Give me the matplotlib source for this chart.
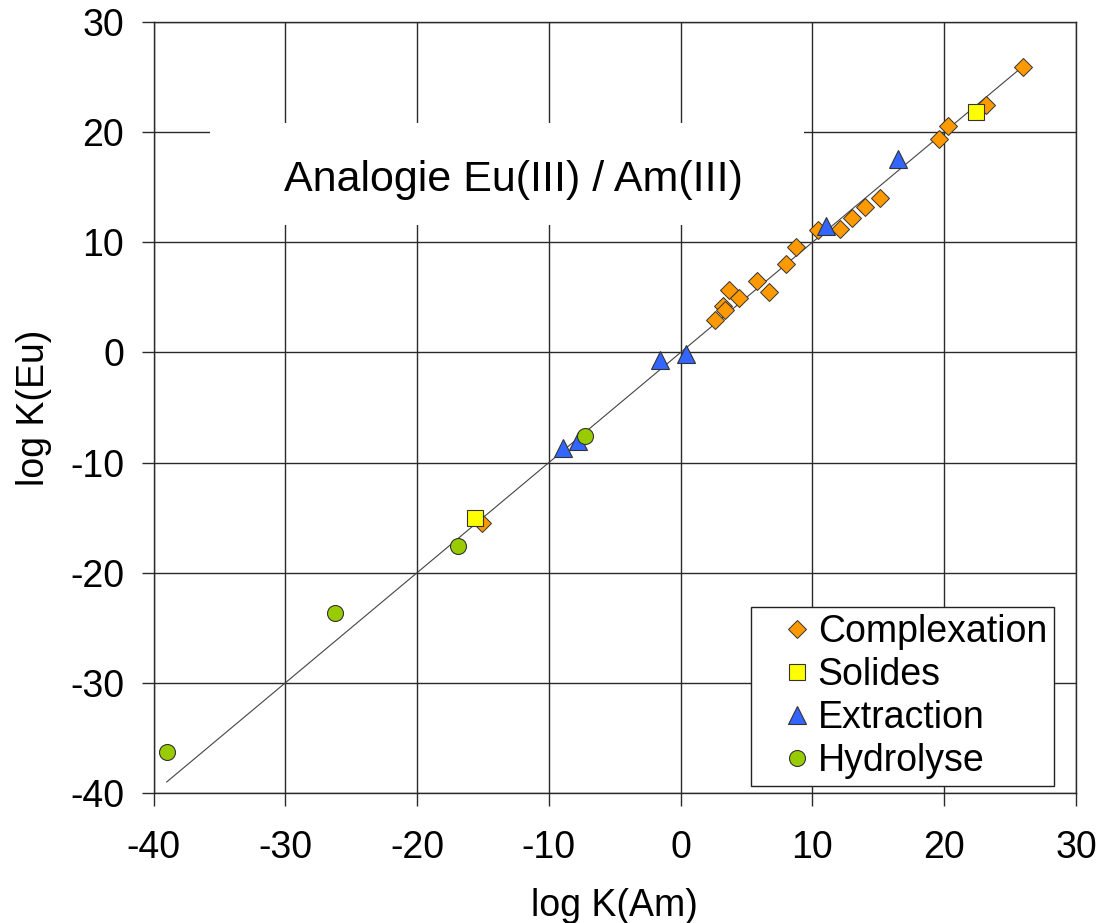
import matplotlib
matplotlib.use("Agg")
import matplotlib.pyplot as plt
from matplotlib.patches import Rectangle

plt.rcParams['font.family'] = ['Liberation Sans', 'DejaVu Sans']
plt.rcParams['axes.unicode_minus'] = False

# log K values: Am(III) on x, Eu(III) on y
complex_am = [26.0, 23.2, 20.3, 19.6, 15.1, 14.0, 13.0, 12.1, 10.4, 8.75, 8.0,
              5.8, 6.7, 3.7, 4.4, 3.2, 3.4, 2.6, -15.05]
complex_eu = [25.9, 22.5, 20.6, 19.4, 14.0, 13.2, 12.2, 11.2, 11.1, 9.55, 8.0,
              6.5, 5.5, 5.7, 4.9, 4.2, 3.85, 2.95, -15.5]

solid_am = [22.4, -15.6]
solid_eu = [21.8, -15.0]

extract_am = [16.5, 11.0, 0.4, -1.6, -7.8, -8.9]
extract_eu = [17.6, 11.5, -0.15, -0.7, -8.05, -8.7]

hydro_am = [-7.25, -16.9, -26.2, -39.0]
hydro_eu = [-7.6, -17.6, -23.7, -36.3]

# log K(Eu) = log K(Am) reference line
line_am = [-39.0, 26.0]
line_eu = [-39.0, 26.0]

ticks = [-40, -30, -20, -10, 0, 10, 20, 30]

fig = plt.figure(figsize=(11.01, 9.23), dpi=100)
ax = fig.add_axes([153.5 / 1101, 1 - 793 / 923, (1076 - 153.5) / 1101, (793 - 22) / 923])

ax.set_xlim(-40, 30)
ax.set_ylim(-40, 30)
ax.set_xticks(ticks)
ax.set_yticks(ticks)
ax.grid(True, color='#2a2a2a', linewidth=1.0, zorder=0)
ax.set_axisbelow(True)
for s in ax.spines.values():
    s.set_color('#2a2a2a')
    s.set_linewidth(1.0)
ax.tick_params(direction='out', length=9, width=1.0, color='#2a2a2a',
               labelsize=27)
ax.tick_params(axis='x', pad=18)
ax.tick_params(axis='y', pad=12)

ax.plot(line_am, line_eu, color='#444444', linewidth=0.8, zorder=2)

edge = '#333333'
ax.plot(complex_am, complex_eu, linestyle='none', marker='D', markersize=9.5,
        markerfacecolor='#FF9900', markeredgecolor=edge, markeredgewidth=0.7,
        label='Complexation', zorder=3)
ax.plot(solid_am, solid_eu, linestyle='none', marker='s', markersize=11.5,
        markerfacecolor='#FFFF00', markeredgecolor=edge, markeredgewidth=0.8,
        label='Solides', zorder=4)
ax.plot(extract_am, extract_eu, linestyle='none', marker='^', markersize=12.5,
        markerfacecolor='#3366FF', markeredgecolor=edge, markeredgewidth=0.8,
        label='Extraction', zorder=5)
ax.plot(hydro_am, hydro_eu, linestyle='none', marker='o', markersize=11.5,
        markerfacecolor='#99CC00', markeredgecolor=edge, markeredgewidth=0.8,
        label='Hydrolyse', zorder=6)

ax.set_xlabel('log K(Am)', fontsize=27)
ax.set_ylabel('log K(Eu)', fontsize=27)
ax.xaxis.set_label_coords(0.5, (793 - 888) / 771)
ax.yaxis.set_label_coords((52 - 153.5) / 922.5, 0.5)

# white text box holding the chart heading
ax.add_patch(Rectangle((0.0612, 0.7367), 0.705 - 0.0612, 0.869 - 0.7367,
                       transform=ax.transAxes, facecolor='white',
                       edgecolor='none', zorder=1.5))
ax.text(0.3897, 0.795, 'Analogie Eu(III) / Am(III)', transform=ax.transAxes,
        ha='center', va='center', fontsize=31, zorder=7)

leg = ax.legend(loc='upper left',
                bbox_to_anchor=((751 - 153.5) / 922.5, (793 - 607) / 771),
                fontsize=27, frameon=True, fancybox=False, shadow=False,
                edgecolor='#222222', framealpha=1.0, borderpad=0.18,
                labelspacing=0.19, handlelength=2.09, handletextpad=-0.49,
                borderaxespad=0.0, markerscale=1.0)
leg.get_frame().set_linewidth(1.0)
leg.set_zorder(10)

fig.savefig('out.png', dpi=100)
